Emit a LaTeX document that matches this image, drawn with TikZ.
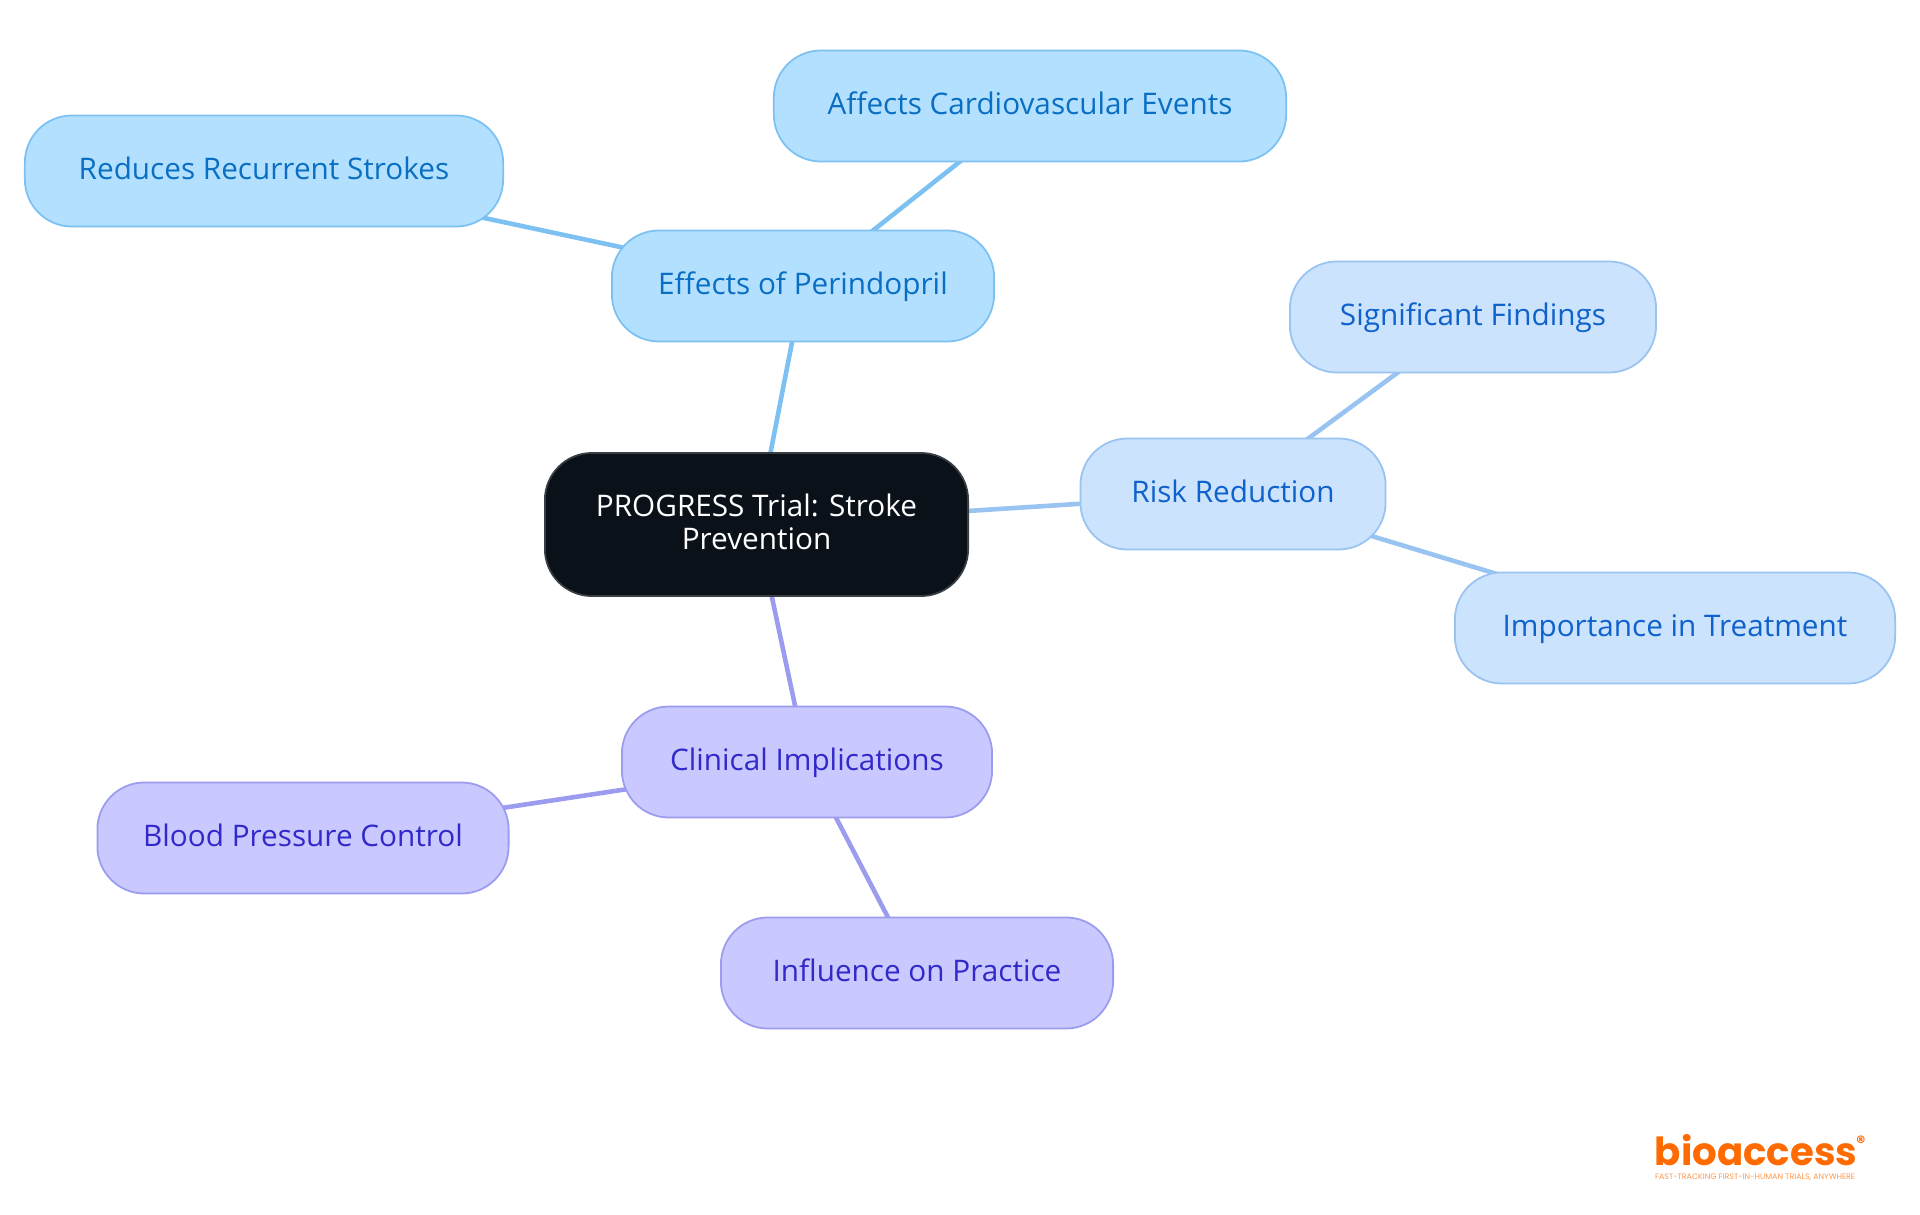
\documentclass[tikz,border=0pt]{standalone}
\usepackage{fontspec}
\setmainfont{Open Sans}
\newfontfamily\logofont{Poppins}
\usetikzlibrary{backgrounds}
\definecolor{rootfill}{HTML}{0B1119}
\definecolor{rootline}{HTML}{3A3F45}
\definecolor{skyfill}{HTML}{B3E0FF}
\definecolor{skyline}{HTML}{7CC1F2}
\definecolor{skytext}{HTML}{0A6FC2}
\definecolor{bluefill}{HTML}{CCE3FD}
\definecolor{blueline}{HTML}{99C3F1}
\definecolor{bluetext}{HTML}{0F62CC}
\definecolor{violetfill}{HTML}{C9C9FF}
\definecolor{violetline}{HTML}{9B9BF0}
\definecolor{violettext}{HTML}{3229C9}
\definecolor{logoorange}{HTML}{FF6B00}

\begin{document}
\begin{tikzpicture}[x=0.01cm,y=-0.01cm,
        main node/.style={draw,line width=0.5pt,rounded corners=0.47cm,align=center,inner sep=0pt,minimum height=1.11cm,text height=0.25cm,text depth=0.076cm,font=\fontsize{8.45}{9.2}\selectfont},
        sky node/.style={main node,fill=skyfill,draw=skyline,text=skytext},
        blue node/.style={main node,fill=bluefill,draw=blueline,text=bluetext},
        violet node/.style={main node,fill=violetfill,draw=violetline,text=violettext},
        sky edge/.style={skyline,line width=1.3pt},
        blue edge/.style={blueline,line width=1.3pt},
        violet edge/.style={violetline,line width=1.3pt}]
        \useasboundingbox (0,0) rectangle (1920,1215);

        % nodes
        \node[main node,fill=rootfill,draw=rootline,text=white,minimum width=4.23cm,minimum height=1.43cm,text height=0.60cm,text depth=0.11cm] (root) at (756.5,524.5) {PROGRESS Trial: Stroke\\Prevention};

        \node[sky node,minimum width=3.82cm] (effects) at (803,286) {Effects of Perindopril};
        \node[sky node,minimum width=5.12cm] (cardio) at (1030,106) {Affects Cardiovascular Events};
        \node[sky node,minimum width=4.78cm] (strokes) at (264,171) {Reduces Recurrent Strokes};

        \node[blue node,minimum width=3.05cm] (risk) at (1233,494) {Risk Reduction};
        \node[blue node,minimum width=3.66cm] (findings) at (1473,317) {Significant Findings};
        \node[blue node,minimum width=4.40cm] (treatment) at (1675,628) {Importance in Treatment};

        \node[violet node,minimum width=3.70cm] (clinical) at (807,762) {Clinical Implications};
        \node[violet node,minimum width=4.11cm] (pressure) at (303,838) {Blood Pressure Control};
        \node[violet node,minimum width=3.92cm] (practice) at (917,973) {Influence on Practice};

        % arrows
        \begin{pgfonlayer}{background}
        \draw[sky edge] (root.center) -- (effects.center);
        \draw[sky edge] (effects.center) -- (cardio.center);
        \draw[sky edge] (effects.center) -- (strokes.center);
        \draw[blue edge] (root.center) -- (risk.center);
        \draw[blue edge] (risk.center) -- (findings.center);
        \draw[blue edge] (risk.center) -- (treatment.center);
        \draw[violet edge] (root.center) -- (clinical.center);
        \draw[violet edge] (clinical.center) -- (pressure.center);
        \draw[violet edge] (clinical.center) -- (practice.center);
        \end{pgfonlayer}

        % logo
        \node[inner sep=0pt,text=logoorange,font=\logofont\bfseries\fontsize{11}{12}\selectfont] (logo) at (1756,1150) {bioaccess};
        \node[inner sep=0pt,text=logoorange,font=\logofont\bfseries\fontsize{5}{6}\selectfont] (mark) at (1861,1142) {®};
        \node[inner sep=0pt,text=logoorange!70,font=\logofont\fontsize{2.25}{3}\selectfont] (tagline) at (1755,1177) {FAST-TRACKING FIRST-IN-HUMAN TRIALS, ANYWHERE};
      \end{tikzpicture}
\end{document}
